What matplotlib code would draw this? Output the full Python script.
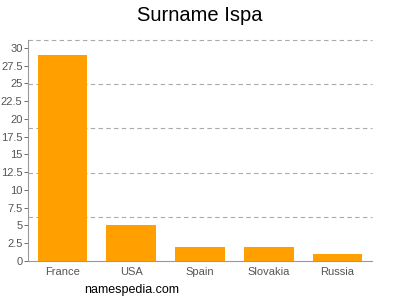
import matplotlib
matplotlib.use("Agg")
import matplotlib.pyplot as plt

categories = ["France", "USA", "Spain", "Slovakia", "Russia"]
values = [29, 5, 2, 2, 1]
yticks = [0, 2.5, 5, 7.5, 10, 12.5, 15, 17.5, 20, 22.5, 25, 27.5, 30]
ytick_labels = ["0", "2.5", "5", "7.5", "10", "12.5", "15", "17.5", "20", "22.5", "25", "27.5", "30"]

plt.rcParams['font.family'] = ['Liberation Sans', 'DejaVu Sans']

fig = plt.figure(figsize=(4, 3), dpi=100)
ax = fig.add_axes([0.07, 0.13, 0.86, 0.7367])
ymax = 31.1
x = range(len(categories))
ax.bar(x, values, width=0.72, color="#ffa000", zorder=3)
ax.set_xlim(-0.5, len(categories) - 0.5)
ax.set_ylim(0, ymax)
for i in range(1, 6):
    ax.axhline(ymax * i / 5, color="#aaaaaa", linestyle=(0, (4, 3)), linewidth=0.8, zorder=1, clip_on=False)
ax.set_yticks(yticks)
ax.set_yticklabels(ytick_labels)
ax.set_xticks(list(x))
ax.set_xticklabels(categories)
ax.tick_params(axis='y', labelsize=8, colors="#555555", length=3, width=0.6, pad=1)
ax.tick_params(axis='x', labelsize=8, colors="#555555", length=0, pad=4)
for s in ["top", "right"]:
    ax.spines[s].set_visible(False)
for s in ["left", "bottom"]:
    ax.spines[s].set_color("#999999")
    ax.spines[s].set_linewidth(0.8)
fig.text(0.5, 0.948, "Surname Ispa", ha="center", va="center", fontsize=14.5, color="#000000")
fig.text(0.33, 0.033, "namespedia.com", ha="center", va="center", fontsize=9, color="#000000")
fig.savefig("out.png", dpi=100)
